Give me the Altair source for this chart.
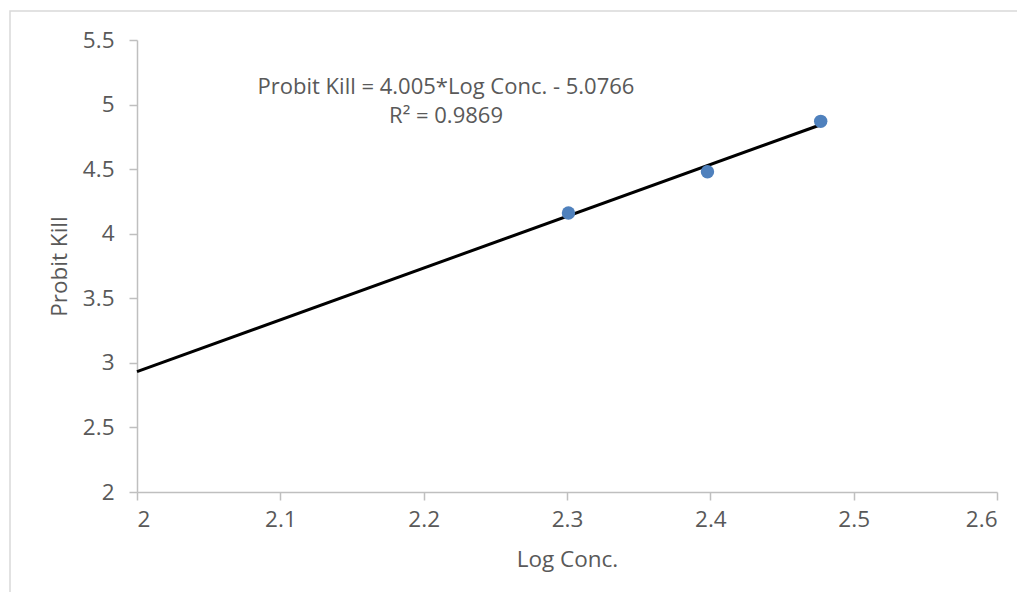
import altair as alt
import pandas as pd

log_conc = [2.301, 2.398, 2.477]
probit_kill = [4.16, 4.48, 4.87]
equation_lines = ["Probit Kill = 4.005*Log Conc. - 5.0766", "R² = 0.9869"]

df = pd.DataFrame({"logc": log_conc, "probit": probit_kill})

FONT = "Open Sans"
GREY = "#595959"

xscale = alt.Scale(domain=[2, 2.6], nice=False, zero=False)
yscale = alt.Scale(domain=[2, 5.5], nice=False, zero=False)

xaxis = alt.Axis(values=[2, 2.1, 2.2, 2.3, 2.4, 2.5, 2.6], format="~g", grid=False,
                 title="Log Conc.", titlePadding=18, labelPadding=8)
yaxis = alt.Axis(values=[2, 2.5, 3, 3.5, 4, 4.5, 5, 5.5], format="~g", grid=False,
                 title="Probit Kill", titlePadding=11, labelPadding=15)

border = alt.Chart(pd.DataFrame({"a": [0]})).mark_rect(
    fill=None, stroke="#d9d9d9", strokeWidth=1.5
).encode(x=alt.value(-127), x2=alt.value(900), y=alt.value(-29), y2=alt.value(580))

points = alt.Chart(df).mark_circle(size=180, color="#4f81bd", opacity=1).encode(
    x=alt.X("logc:Q", scale=xscale, axis=xaxis),
    y=alt.Y("probit:Q", scale=yscale, axis=yaxis),
)

trend = alt.Chart(df).transform_regression(
    "logc", "probit", extent=[2, 2.477]
).mark_line(color="black", strokeWidth=3).encode(
    x=alt.X("logc:Q", scale=xscale),
    y=alt.Y("probit:Q", scale=yscale),
)

eq1 = alt.Chart(pd.DataFrame({"t": [equation_lines[0]]})).mark_text(
    font=FONT, fontSize=22, color=GREY, align="center", baseline="middle"
).encode(x=alt.value(309), y=alt.value(47), text="t")

eq2 = alt.Chart(pd.DataFrame({"t": [equation_lines[1]]})).mark_text(
    font=FONT, fontSize=22, color=GREY, align="center", baseline="middle"
).encode(x=alt.value(309), y=alt.value(76), text="t")

chart = alt.layer(border, trend, points, eq1, eq2).properties(
    width=860, height=452,
    autosize=alt.AutoSizeParams(type="none"),
    padding={"left": 129, "top": 32, "right": 20, "bottom": 100},
).configure_view(stroke=None).configure_axis(
    labelFont=FONT, titleFont=FONT, labelColor=GREY, titleColor=GREY,
    labelFontSize=22.5, titleFontSize=22.5, titleFontWeight="normal",
    domainColor="#bfbfbf", tickColor="#bfbfbf", tickSize=8, domainWidth=1.5, tickWidth=1.5,
)

chart.save("out.html", embed_options={"renderer": "svg", "actions": False})
